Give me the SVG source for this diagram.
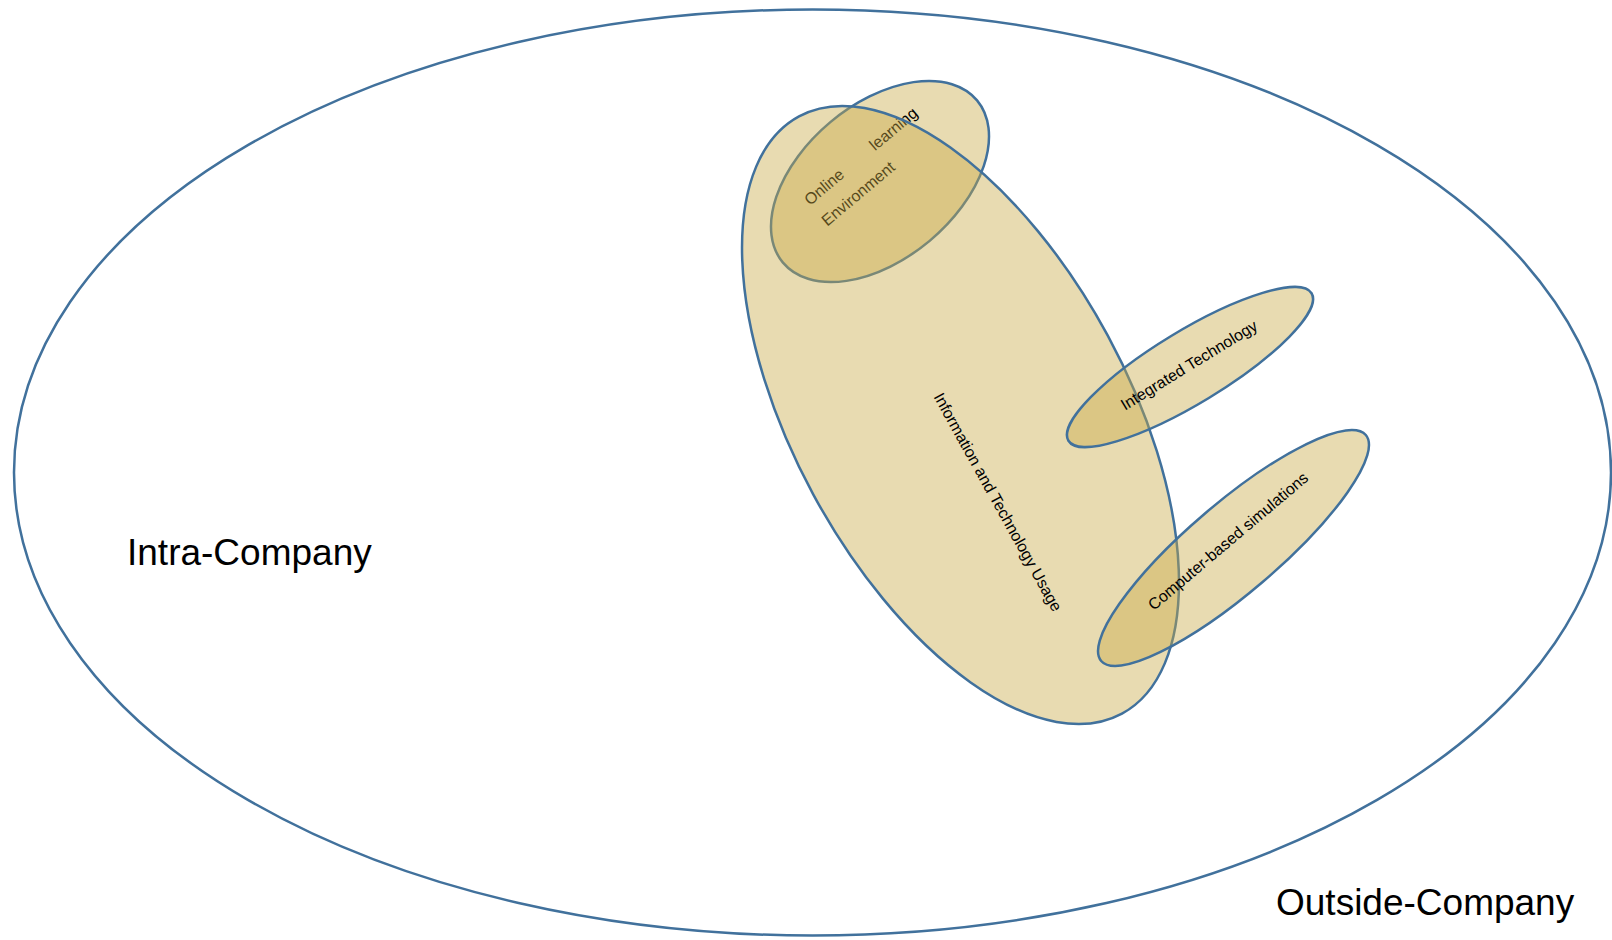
<svg xmlns="http://www.w3.org/2000/svg" width="1612" height="940" viewBox="0 0 1612 940">
  <style>
    .outline { fill: none; stroke: #41719C; stroke-width: 2.5; }
    .blob { fill: rgb(200,170,70); fill-opacity: 0.42; stroke: #41719C; stroke-width: 2.5; }
    .lbl { font-family: "Liberation Sans", Arial, sans-serif; font-size: 16px; fill: #000; }
    .big { font-family: "Liberation Sans", Arial, sans-serif; font-size: 37px; fill: #000; }
  </style>
  <rect width="1612" height="940" fill="#ffffff"/>

  <!-- outer scope: the company and everything around it -->
  <g id="company">
    <ellipse class="outline" cx="812.5" cy="472.5" rx="798.5" ry="463"/>
    <text class="big" x="127" y="565">Intra-Company</text>
    <text class="big" x="1276" y="915" font-size="37.3">Outside-Company</text>
  </g>

  <!-- drawn first so the larger shape tints it -->
  <g id="online-learning">
    <ellipse class="blob" cx="880" cy="181.5" rx="126.5" ry="77.4" transform="rotate(-39.9 880 181.5)"/>
    <g transform="translate(810 206) rotate(-40)">
      <text class="lbl" x="0" y="0">Online</text>
      <text class="lbl" x="85" y="0">learning</text>
      <text class="lbl" x="0" y="27">Environment</text>
    </g>
  </g>

  <g id="it-usage">
    <ellipse class="blob" cx="960.5" cy="415" rx="339.5" ry="167.3" transform="rotate(61.6 960.5 415)"/>
    <text class="lbl" text-anchor="middle" x="0" y="5.6" transform="translate(998 502) rotate(61)">Information and Technology Usage</text>
  </g>

  <g id="integrated-technology">
    <ellipse class="blob" cx="1190" cy="367" rx="142.2" ry="36.3" transform="rotate(-31.25 1190 367)"/>
    <text class="lbl" text-anchor="middle" x="0" y="5.6" transform="translate(1189 365) rotate(-31.5)">Integrated Technology</text>
  </g>

  <g id="computer-simulations">
    <ellipse class="blob" cx="1233.5" cy="548" rx="174" ry="44.8" transform="rotate(-40.5 1233.5 548)"/>
    <text class="lbl" text-anchor="middle" x="0" y="5.6" transform="translate(1228 541) rotate(-40.2)">Computer-based simulations</text>
  </g>

  <g id="connectors"/>
</svg>
